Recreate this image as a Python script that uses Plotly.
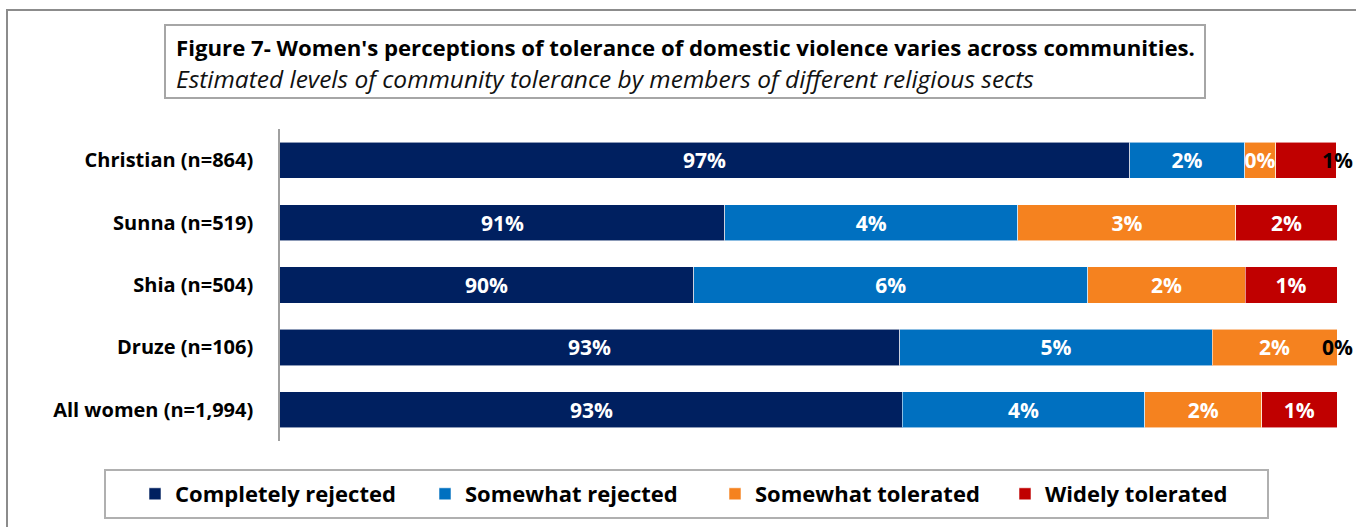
import plotly.graph_objects as go

# ---------------- data ----------------
categories = ["Christian (n=864)", "Sunna (n=519)", "Shia (n=504)",
              "Druze (n=106)", "All women (n=1,994)"]
series_names = ["Completely rejected", "Somewhat rejected",
                "Somewhat tolerated", "Widely tolerated"]
completely_rejected = [96.86, 90.73, 90.26, 93.38, 93.42]
somewhat_rejected = [1.74, 4.44, 5.97, 4.73, 3.67]
somewhat_tolerated = [0.47, 3.30, 2.38, 1.89, 1.77]
widely_tolerated = [0.92, 1.53, 1.39, 0.00, 1.14]
colors = ["#002060", "#0070C0", "#F5821F", "#C00000"]
title_text = "Figure 7- Women's perceptions of tolerance of domestic violence varies across communities."
subtitle_text = "Estimated levels of community tolerance by members of different religious sects"
X_MIN, X_MAX = 84, 100

FONT = "Open Sans"
series = [completely_rejected, somewhat_rejected, somewhat_tolerated, widely_tolerated]

# ---------------- layout geometry (pixels) ----------------
W, H = 1356, 527
L, R, T, B = 280, 19, 129, 86
PW, PH = W - L - R, H - T - B


def px_x(px):
    return (px - L) / PW


def px_y(py):
    return (H - B - py) / PH


fig = go.Figure()

# labels drawn in black at the end of the axis: (series index, category index)
special = {(3, 0), (3, 3)}
LABEL_SIZE = 21

for si, (name, vals, col) in enumerate(zip(series_names, series, colors)):
    texts = []
    for ci, v in enumerate(vals):
        if si == 0 or (si, ci) in special:
            texts.append("")
        else:
            texts.append(f"{round(v):d}%")
    fig.add_trace(go.Bar(
        y=categories, x=vals, name=name, orientation="h",
        marker=dict(color=col, line=dict(color="rgba(255,255,255,0.55)", width=1)),
        text=texts, textposition="inside", insidetextanchor="middle",
        constraintext="none", textangle=0,
        insidetextfont=dict(family=FONT, size=LABEL_SIZE, color="white", weight="bold"),
        hoverinfo="x+y+name",
    ))

# labels for first series: centred on the visible part of the bar
for ci, v in enumerate(completely_rejected):
    fig.add_annotation(x=(X_MIN + v) / 2, y=categories[ci], xref="x", yref="y",
                       text=f"{round(v):d}%", showarrow=False,
                       font=dict(family=FONT, size=LABEL_SIZE, color="white", weight="bold"))

# special labels drawn in black at the end of the bar
for si, ci in special:
    v = series[si][ci]
    fig.add_annotation(x=X_MAX, y=categories[ci], xref="x", yref="y",
                       text=f"{round(v):d}%", showarrow=False,
                       font=dict(family=FONT, size=LABEL_SIZE, color="black", weight="bold"))

# title box + text
fig.add_shape(type="rect", xref="paper", yref="paper",
              x0=px_x(165), x1=px_x(1205), y0=px_y(98), y1=px_y(25),
              line=dict(color="#a6a6a6", width=2), fillcolor="white", layer="below")
fig.add_annotation(xref="paper", yref="paper", x=px_x(174), y=px_y(47),
                   xanchor="left", yanchor="middle", showarrow=False,
                   text=title_text,
                   font=dict(family=FONT, size=22.2, color="black", weight="bold"))
fig.add_annotation(xref="paper", yref="paper", x=px_x(174), y=px_y(79),
                   xanchor="left", yanchor="middle", showarrow=False,
                   text=subtitle_text,
                   font=dict(family=FONT, size=24.5, color="#111111", style="italic"))

# outer frame
fig.add_shape(type="rect", xref="paper", yref="paper",
              x0=px_x(7), x1=px_x(1370), y0=px_y(540), y1=px_y(10),
              line=dict(color="#8c8c8c", width=2), layer="below")

# legend box
fig.add_shape(type="rect", xref="paper", yref="paper",
              x0=px_x(105), x1=px_x(1268), y0=px_y(518), y1=px_y(470),
              line=dict(color="#b0b0b0", width=2), layer="below")

fig.update_layout(
    width=W, height=H,
    margin=dict(l=L, r=R, t=T, b=B, pad=0),
    paper_bgcolor="white", plot_bgcolor="white",
    barmode="stack", bargap=0.42,
    font=dict(family=FONT, color="black"),
    showlegend=True,
    legend=dict(orientation="h", x=px_x(135), xanchor="left",
                y=px_y(494), yanchor="middle",
                entrywidth=245, entrywidthmode="pixels",
                bgcolor="rgba(0,0,0,0)", borderwidth=0,
                font=dict(family=FONT, size=22, color="black", weight="bold"),
                traceorder="normal"),
    xaxis=dict(range=[X_MIN, X_MAX], visible=False, fixedrange=True),
    yaxis=dict(categoryorder="array", categoryarray=categories,
               autorange="reversed", showline=True, linecolor="#a0a0a0",
               linewidth=1.5, ticks="", ticklabelstandoff=21,
               tickfont=dict(family=FONT, size=20, color="black", weight="bold"),
               showgrid=False, zeroline=False),
)

fig.write_html("out.html")
